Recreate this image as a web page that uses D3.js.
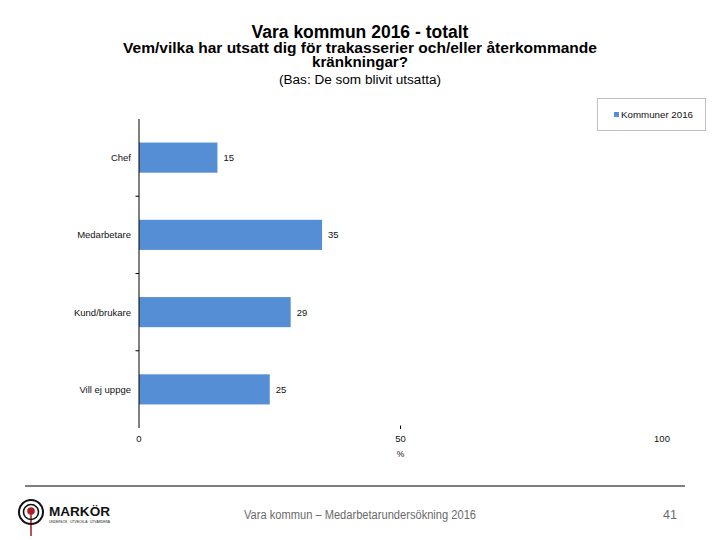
<!DOCTYPE html>
<html>
<head>
<meta charset="utf-8">
<script src="https://cdn.jsdelivr.net/npm/d3@7"></script>
<style>
html,body{margin:0;padding:0;background:#fff;}
svg{display:block;font-family:"Liberation Sans",Arial,sans-serif;}
</style>
</head>
<body>
<svg id="chart" width="720" height="540"></svg>
<script>
const categories = ["Chef", "Medarbetare", "Kund/brukare", "Vill ej uppge"];
const values = [15, 35, 29, 25];
const xTicks = [0, 50, 100];
const seriesName = "Kommuner 2016";
const titleLines = ["Vara kommun 2016 - totalt",
  "Vem/vilka har utsatt dig för trakasserier och/eller återkommande",
  "kränkningar?"];
const subtitle = "(Bas: De som blivit utsatta)";
const footerText = "Vara kommun – Medarbetarundersökning 2016";
const pageNumber = "41";

const svg = d3.select("#chart");
const barColor = "#558ed5";

// Titles
svg.append("text").attr("x", 360).attr("y", 37.5).attr("text-anchor", "middle")
  .attr("font-size", 17.5).attr("font-weight", "bold").attr("fill", "#000").text(titleLines[0]);
svg.append("text").attr("x", 360).attr("y", 52.5).attr("text-anchor", "middle")
  .attr("font-size", 14).attr("font-weight", "bold").attr("fill", "#000")
  .attr("textLength", 474).attr("lengthAdjust", "spacingAndGlyphs").text(titleLines[1]);
svg.append("text").attr("x", 360).attr("y", 67).attr("text-anchor", "middle")
  .attr("font-size", 14.5).attr("font-weight", "bold").attr("fill", "#000")
  .attr("textLength", 96).attr("lengthAdjust", "spacingAndGlyphs").text(titleLines[2]);
svg.append("text").attr("x", 360).attr("y", 83.5).attr("text-anchor", "middle")
  .attr("font-size", 12.5).attr("fill", "#000")
  .attr("textLength", 162).attr("lengthAdjust", "spacingAndGlyphs").text(subtitle);

// Scales
const x = d3.scaleLinear().domain([0, 100]).range([139, 662]);
const y = d3.scaleBand().domain(categories).range([119, 428]).paddingInner(0.61).paddingOuter(0.305);

// Bars
svg.append("g").selectAll("rect").data(categories).join("rect")
  .attr("x", x(0)).attr("y", d => y(d))
  .attr("width", (d, i) => x(values[i]) - x(0))
  .attr("height", y.bandwidth())
  .attr("fill", barColor);

// Value labels
svg.append("g").selectAll("text").data(categories).join("text")
  .attr("x", (d, i) => x(values[i]) + 6)
  .attr("y", d => y(d) + y.bandwidth() / 2 + 3.5)
  .attr("font-size", 9.5).attr("fill", "#111")
  .text((d, i) => values[i]);

// Y axis
svg.append("line").attr("x1", 139).attr("x2", 139).attr("y1", 119).attr("y2", 428)
  .attr("stroke", "#000").attr("stroke-width", 1);
const step = y.step();
const boundaries = categories.slice(1).map(c => y(c) - y.paddingInner() * step / 2);
svg.append("g").selectAll("line").data(boundaries).join("line")
  .attr("x1", 135.5).attr("x2", 139).attr("y1", d => d).attr("y2", d => d)
  .attr("stroke", "#000").attr("stroke-width", 1);
svg.append("g").selectAll("text").data(categories).join("text")
  .attr("x", 131).attr("y", d => y(d) + y.bandwidth() / 2 + 3.5)
  .attr("text-anchor", "end").attr("font-size", 9.5).attr("fill", "#111")
  .text(d => d);

// X axis ticks & labels
svg.append("g").selectAll("line").data(xTicks.filter(t => t !== 0 && t !== 100)).join("line")
  .attr("x1", d => x(d)).attr("x2", d => x(d)).attr("y1", 425.5).attr("y2", 429)
  .attr("stroke", "#000").attr("stroke-width", 1);
svg.append("g").selectAll("text").data(xTicks).join("text")
  .attr("x", d => x(d)).attr("y", 442).attr("text-anchor", "middle")
  .attr("font-size", 9.5).attr("fill", "#111").text(d => d);
svg.append("text").attr("x", x(50)).attr("y", 457).attr("text-anchor", "middle")
  .attr("font-size", 8.5).attr("fill", "#111").text("%");

// Legend
svg.append("rect").attr("x", 597.5).attr("y", 98.5).attr("width", 108).attr("height", 32)
  .attr("fill", "#fff").attr("stroke", "#c0c0c0").attr("stroke-width", 1);
svg.append("rect").attr("x", 614).attr("y", 112).attr("width", 5).attr("height", 5).attr("fill", barColor);
svg.append("text").attr("x", 621).attr("y", 118).attr("font-size", 9).attr("fill", "#111")
  .attr("textLength", 72).attr("lengthAdjust", "spacingAndGlyphs").text(seriesName);

// Footer line
svg.append("line").attr("x1", 25).attr("x2", 685).attr("y1", 486).attr("y2", 486)
  .attr("stroke", "#000").attr("stroke-width", 1.2);
svg.append("text").attr("x", 244).attr("y", 519).attr("font-size", 12.5).attr("fill", "#6a6a6a")
  .attr("textLength", 232).attr("lengthAdjust", "spacingAndGlyphs").text(footerText);
svg.append("text").attr("x", 677).attr("y", 519).attr("text-anchor", "end").attr("font-size", 12.5)
  .attr("fill", "#6a6a6a").text(pageNumber);

// Logo
const logo = svg.append("g");
logo.append("line").attr("x1", 31).attr("x2", 31).attr("y1", 514).attr("y2", 536)
  .attr("stroke", "#9c1c1c").attr("stroke-width", 1.5);
logo.append("circle").attr("cx", 31).attr("cy", 512).attr("r", 12).attr("fill", "none").attr("stroke", "#111").attr("stroke-width", 2);
logo.append("circle").attr("cx", 31).attr("cy", 512).attr("r", 7.5).attr("fill", "none").attr("stroke", "#111").attr("stroke-width", 1.6);
logo.append("circle").attr("cx", 31).attr("cy", 511).attr("r", 3.8).attr("fill", "#b01e23");
logo.append("text").attr("x", 49).attr("y", 516).attr("font-size", 13).attr("font-weight", "bold")
  .attr("fill", "#111").attr("textLength", 61).attr("lengthAdjust", "spacingAndGlyphs").text("MARKÖR");
logo.append("text").attr("x", 49).attr("y", 522.5).attr("font-size", 3.5).attr("fill", "#111")
  .attr("textLength", 61).attr("lengthAdjust", "spacingAndGlyphs").text("UNDERSÖK · UTVECKLA · UTVÄRDERA");
</script>
</body>
</html>
